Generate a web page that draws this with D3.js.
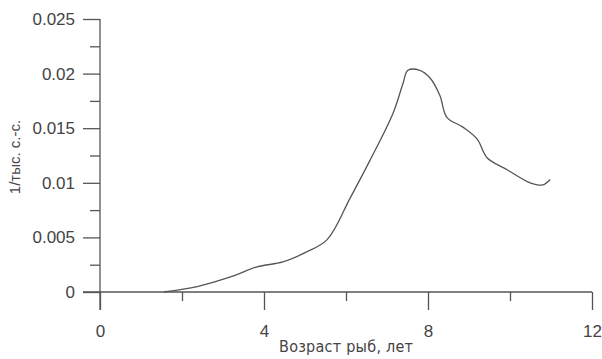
<!DOCTYPE html>
<html>
<head>
<meta charset="utf-8">
<script src="https://cdn.jsdelivr.net/npm/d3@7"></script>
<style>
  body { margin: 0; background: #fff; }
  svg { display: block; }
  .tick text { font-family: "Liberation Sans", Arial, sans-serif; fill: #444; }
</style>
</head>
<body>
<figure id="chart" style="margin:0"></figure>
<script>
// ages (years) and values
const ages = [1.56, 2.37, 3.2, 3.83, 4.46, 5.0, 5.54, 6.1, 6.59, 7.15, 7.39, 7.51, 7.8, 8.05, 8.29, 8.46, 8.85, 9.2, 9.44, 9.93, 10.49, 10.8, 10.98];
const values = [0, 0.0005, 0.0014, 0.0023, 0.00275, 0.0036, 0.0048, 0.0086, 0.0121, 0.0164, 0.0191, 0.0203, 0.0203, 0.0196, 0.0180, 0.0160, 0.0151, 0.0140, 0.0123, 0.0112, 0.0100, 0.0098, 0.0103];
const xTicks = [0, 4, 8, 12];
const yTicks = [0, 0.005, 0.01, 0.015, 0.02, 0.025];

let dimensions = {
    width: 602,
    height: 359,
    margin: { top: 19, right: 10, bottom: 67, left: 100 },
};
dimensions.boundedWidth = 492;
dimensions.boundedHeight = 273;

const svg = d3.select("figure#chart")
    .append("svg")
    .attr("width", dimensions.width)
    .attr("height", dimensions.height)
    .append("g")
    .attr("transform", `translate(${dimensions.margin.left}, ${dimensions.margin.top})`);

const xScale = d3.scaleLinear().domain([0, 12]).range([0, dimensions.boundedWidth]);
const yScale = d3.scaleLinear().domain([0, 0.025]).range([dimensions.boundedHeight, 0]);

const axisColor = "#555";

// x axis: major ticks with labels, minor ticks between
const xAxis = svg.append("g")
    .attr("transform", `translate(0, ${dimensions.boundedHeight})`)
    .call(d3.axisBottom(xScale).tickValues(xTicks).tickSize(18).tickPadding(15).tickFormat(d3.format("d")));
svg.append("g")
    .attr("transform", `translate(0, ${dimensions.boundedHeight})`)
    .call(d3.axisBottom(xScale).tickValues([2, 6, 10]).tickSize(9).tickFormat(""))
    .select(".domain").remove();
xAxis.select(".domain").attr("d", `M${xScale(0) - 17},0H${xScale(12)}`);

// y axis
const yAxis = svg.append("g")
    .call(d3.axisLeft(yScale).tickValues(yTicks).tickSize(17).tickPadding(8).tickFormat(d => d === 0 ? "0" : String(+d.toFixed(3))));
svg.append("g")
    .call(d3.axisLeft(yScale).tickValues([0.0025, 0.0075, 0.0125, 0.0175, 0.0225]).tickSize(10).tickFormat(""))
    .select(".domain").remove();
yAxis.select(".domain").attr("d", `M0,${yScale(0.025)}V${dimensions.boundedHeight + 18}`);

svg.selectAll(".domain, .tick line").attr("stroke", axisColor).attr("stroke-width", 1.3);
svg.selectAll(".tick text").attr("font-size", 17).attr("fill", "#444");

// curve
const line = d3.line()
    .x((d, i) => xScale(ages[i]))
    .y(d => yScale(d))
    .curve(d3.curveCatmullRom);

svg.append("path")
    .datum(values)
    .attr("fill", "none")
    .attr("stroke", "#555")
    .attr("stroke-width", 1.3)
    .attr("d", line);

// axis titles
svg.append("text")
    .attr("x", dimensions.boundedWidth / 2)
    .attr("y", dimensions.boundedHeight + 60)
    .attr("text-anchor", "middle")
    .attr("font-family", "'Liberation Sans Narrow', 'DejaVu Sans Condensed', sans-serif")
    .attr("font-size", 16)
    .attr("fill", "#444")
    .attr("textLength", 134)
    .text("Возраст рыб, лет");

svg.append("text")
    .attr("transform", `translate(-80, ${157 - dimensions.margin.top}) rotate(-90)`)
    .attr("text-anchor", "middle")
    .attr("font-family", "'Liberation Sans', Arial, sans-serif")
    .attr("font-size", 15)
    .attr("fill", "#444")
    .text("1/тыс. с.-с.");
</script>
</body>
</html>
